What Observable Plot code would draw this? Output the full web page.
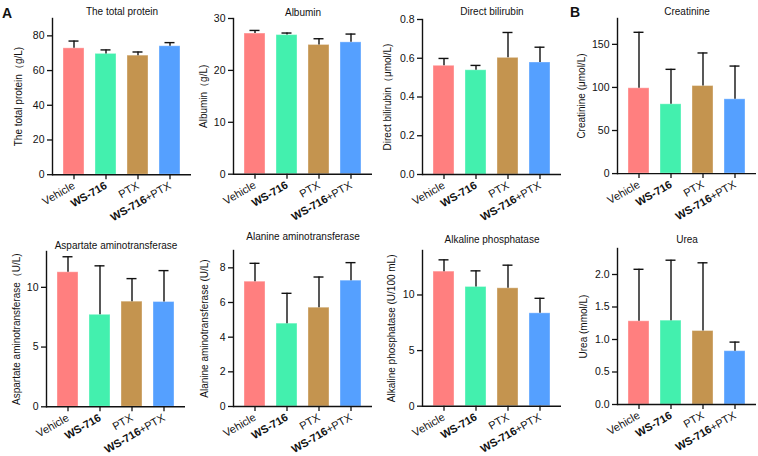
<!DOCTYPE html>
<html><head><meta charset="utf-8">
<script src="https://cdn.jsdelivr.net/npm/d3@7"></script>
<script src="https://cdn.jsdelivr.net/npm/@observablehq/plot@0.6"></script>
<style>
body{margin:0;background:#fff;}
#root{position:relative;width:758px;height:456px;overflow:hidden;font-family:"Liberation Sans",Arial,sans-serif;color:#111;}
.panel{position:absolute;}
.letter{position:absolute;font-weight:bold;font-size:14px;line-height:1;}
</style></head><body><div id="root"><div class="letter" style="left:2px;top:6.4px">A</div><div class="letter" style="left:570px;top:4.8px">B</div></div>
<script>
// ---- data ----
const categories = ["Vehicle", "WS-716", "PTX", "WS-716+PTX"];
const colors = ["#FF7F7F", "#43F0AE", "#C4944F", "#55A0FF"];

const totalProteinMean = [72.8, 69.6, 68.6, 74.0];
const totalProteinSD   = [4.2, 2.3, 2.1, 2.1];
const albuminMean = [27.1, 26.8, 24.9, 25.4];
const albuminSD   = [0.6, 0.4, 1.2, 1.6];
const bilirubinMean = [0.561, 0.538, 0.602, 0.578];
const bilirubinSD   = [0.038, 0.025, 0.131, 0.079];
const creatinineMean = [99, 80.4, 101.6, 86.2];
const creatinineSD   = [65, 40.6, 38.4, 38.6];
const astMean = [11.26, 7.7, 8.8, 8.77];
const astSD   = [1.3, 4.1, 1.93, 2.63];
const altMean = [7.2, 4.78, 5.7, 7.26];
const altSD   = [1.06, 1.75, 1.77, 1.04];
const alpMean = [12.1, 10.72, 10.6, 8.35];
const alpSD   = [1.06, 1.45, 2.08, 1.35];
const ureaMean = [1.28, 1.29, 1.13, 0.82];
const ureaSD   = [0.80, 0.93, 1.05, 0.14];

const titles = ["The total protein", "Albumin", "Direct bilirubin", "Creatinine",
  "Aspartate aminotransferase", "Alanine aminotransferase", "Alkaline phosphatase", "Urea"];
const yLabels = ["The total protein（g/L)", "Albumin（g/L)", "Direct bilirubin（μmol/L)", "Creatinine (μmol/L)",
  "Aspartate aminotransferase（U/L)", "Alanine aminotransferase (U/L)", "Alkaline phosphatase (U/100 mL)", "Urea (mmol/L)"];
const yTicks = [[0, 20, 40, 60, 80], [0, 10, 20, 30], [0, 0.2, 0.4, 0.6, 0.8], [0, 50, 100, 150],
  [0, 5, 10], [0, 2, 4, 6, 8], [0, 5, 10], [0, 0.5, 1.0, 1.5, 2.0]];
const yMax = [90, 30, 0.8, 180, 13, 9, 14, 2.4];
const means = [totalProteinMean, albuminMean, bilirubinMean, creatinineMean, astMean, altMean, alpMean, ureaMean];
const sds = [totalProteinSD, albuminSD, bilirubinSD, creatinineSD, astSD, altSD, alpSD, ureaSD];

// ---- layout (page pixels) ----
const layout = [
  {L: 52, T: 17.8, B: 174, titleY: 11, labelDist: 34, fmt: null},
  {L: 233, T: 18.3, B: 174, titleY: 13, labelDist: 30, fmt: null},
  {L: 422, T: 19, B: 174, titleY: 11.7, labelDist: 35, fmt: ".1f"},
  {L: 617, T: 18.2, B: 173.3, titleY: 11.7, labelDist: 35.5, fmt: null},
  {L: 46, T: 250.7, B: 406, titleY: 245, labelDist: 29.5, fmt: null},
  {L: 232.5, T: 250, B: 406, titleY: 236.7, labelDist: 29, fmt: null},
  {L: 422.3, T: 250, B: 405.7, titleY: 239.3, labelDist: 30.5, fmt: null},
  {L: 617, T: 248.3, B: 404.3, titleY: 239.3, labelDist: 34, fmt: ".1f"}
];

const ML = 50, MR = 6, MT = 24, MB = 62, FW = 139;
const ink = "#111";
const root = document.getElementById("root");
const pending = [];

layout.forEach((cfg, k) => {
  const data = categories.map((c, i) => ({group: c, mean: means[k][i], top: means[k][i] + sds[k][i]}));
  const H = cfg.B - cfg.T;
  const W = ML + FW + MR, HH = MT + H + MB;
  const p = Plot.plot({
    width: W, height: HH,
    marginLeft: ML, marginRight: MR, marginTop: MT, marginBottom: MB,
    style: {background: "transparent", overflow: "visible", maxWidth: "none", fontFamily: '"Liberation Sans", Arial, sans-serif', fontSize: "10.5px", color: ink},
    x: {domain: categories, padding: 0.33, label: null},
    y: {domain: [0, yMax[k]], label: null},
    color: {domain: categories, range: colors},
    marks: [
      Plot.barY(data, {x: "group", y: "mean", fill: "group", stroke: "white", strokeOpacity: 0.35, strokeWidth: 1}),
      Plot.ruleX(data, {x: "group", y1: "mean", y2: "top", stroke: ink, strokeWidth: 1.4}),
      Plot.tickY(data, {x: "group", y: "top", stroke: ink, strokeWidth: 1.4, insetLeft: 5.5, insetRight: 5.5}),
      Plot.axisY({ticks: yTicks[k], tickSize: 5, tickPadding: 3, tickFormat: cfg.fmt ? d3.format(cfg.fmt) : (d) => String(d), label: null, strokeWidth: 1.3, fontSize: 10.5}),
      Plot.axisX({tickSize: 5, tickPadding: 5, tickRotate: -30, label: null, strokeWidth: 1.3, fontSize: 11}),
      Plot.ruleY([0], {stroke: ink, strokeWidth: 1.4}),
      Plot.frame({anchor: "left", stroke: ink, strokeWidth: 1.4}),
      Plot.text([titles[k]], {frameAnchor: "top", dy: cfg.titleY - cfg.T, lineAnchor: "middle", textAnchor: "middle", fontSize: 10, fill: ink}),
      Plot.text([yLabels[k]], {frameAnchor: "left", rotate: -90, dx: -cfg.labelDist, textAnchor: "middle", lineAnchor: "middle", fontSize: 10, fill: ink})
    ]
  });
  // bold "WS-716" in tick labels (separate text elements, no tspans)
  d3.select(p).selectAll('g[aria-label="x-axis tick label"] text').each(function () {
    const t = this.textContent;
    if (t === "WS-716") {
      this.setAttribute("font-weight", "bold");
    } else if (t.startsWith("WS-716")) {
      this.textContent = t.slice(6);
      const bold = this.cloneNode(false);
      bold.textContent = "WS-716";
      bold.setAttribute("font-weight", "bold");
      this.parentNode.appendChild(bold);
      pending.push([this, bold]);
    }
  });
  const div = document.createElement("div");
  div.className = "panel";
  div.style.left = (cfg.L - ML) + "px";
  div.style.top = (cfg.T - MT) + "px";
  div.style.width = W + "px";
  div.style.height = HH + "px";
  div.appendChild(p);
  root.appendChild(div);
});
for (const [rest, bold] of pending) {
  bold.setAttribute("x", -rest.getComputedTextLength());
}
</script>
</body></html>
